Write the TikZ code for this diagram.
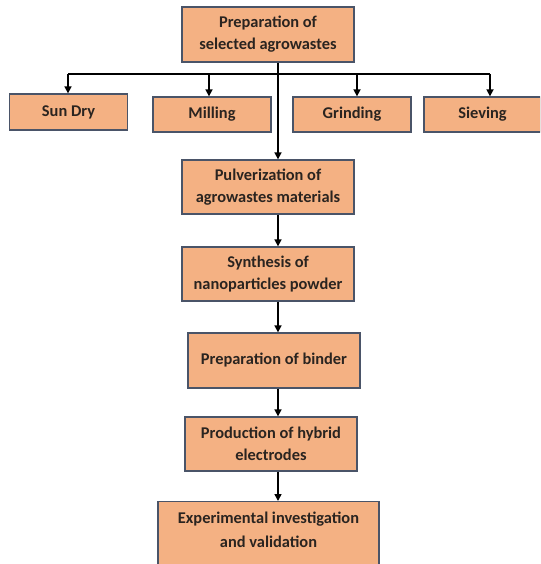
\documentclass[tikz,border=0pt]{standalone}
\usepackage{fontspec}
\setmainfont{Carlito}
\usetikzlibrary{arrows.meta}
\definecolor{boxfill}{HTML}{F4B183}
\definecolor{boxline}{HTML}{4A5468}
\definecolor{txtcol}{HTML}{2A2420}
\tikzset{
  box/.style={draw=boxline, line width=1.3pt, fill=boxfill, inner sep=0pt,
    text=txtcol, font=\fontsize{16.4}{22}\selectfont\bfseries, align=center},
  txt/.style={text=txtcol, font=\fontsize{16.4}{24}\selectfont\bfseries, align=center, inner sep=0pt},
  conn/.style={line width=1.6pt, black},
  arr/.style={conn, -{Triangle[length=7pt,width=7pt]}}
}
\begin{document}
\begin{tikzpicture}[x=1pt,y=-1pt]
\useasboundingbox (0,0) rectangle (540,564);
\begin{scope}
\clip (0,0) rectangle (540,564);
% nodes
\node[box, minimum width=172, minimum height=55] (prep) at (268,34.5) {Preparation of\\selected agrowastes};
\node[box, minimum width=118, minimum height=36] (sun) at (68.5,112) {Sun Dry};
\node[box, minimum width=118, minimum height=35] (mill) at (212,114.5) {Milling};
\node[box, minimum width=118, minimum height=35] (grind) at (352,114.5) {Grinding};
\node[box, minimum width=117, minimum height=35] (sieve) at (482.5,114.5) {Sieving};
\node[box, minimum width=172, minimum height=54] (pulv) at (268,187) {Pulverization of\\agrowastes materials};
\node[box, minimum width=172, minimum height=54] (synth) at (268,274) {Synthesis of\\nanoparticles powder};
\node[box, minimum width=172, minimum height=55] (binder) at (274,360.5) {Preparation of binder};
\node[box, minimum width=172, minimum height=54] (prod) at (271,444) {Production of hybrid\\electrodes};
\node[box, minimum width=221, minimum height=70, anchor=north] (exper) at (268.5,501) {};
\node[txt] (expertxt) at (268.5,529.5) {Experimental investigation\\and validation};
% connectors
\coordinate (j) at (278,74);
\coordinate (b1) at (68,74);
\coordinate (b2) at (209,74);
\coordinate (b3) at (357,74);
\coordinate (b4) at (490,74);
\draw[conn] (b1) -- (b4);
\draw[arr] (b1) -- (b1 |- sun.north);
\draw[arr] (b2) -- (b2 |- mill.north);
\draw[arr] (b3) -- (b3 |- grind.north);
\draw[arr] (b4) -- (b4 |- sieve.north);
\draw[arr] (prep.south -| j) -- (pulv.north -| j);
\draw[arr] (pulv.south -| j) -- (synth.north -| j);
\draw[arr] (synth.south -| j) -- (binder.north -| j);
\draw[arr] (binder.south -| j) -- (prod.north -| j);
\draw[arr] (prod.south -| j) -- (exper.north -| j);
\end{scope}
\end{tikzpicture}
\end{document}
